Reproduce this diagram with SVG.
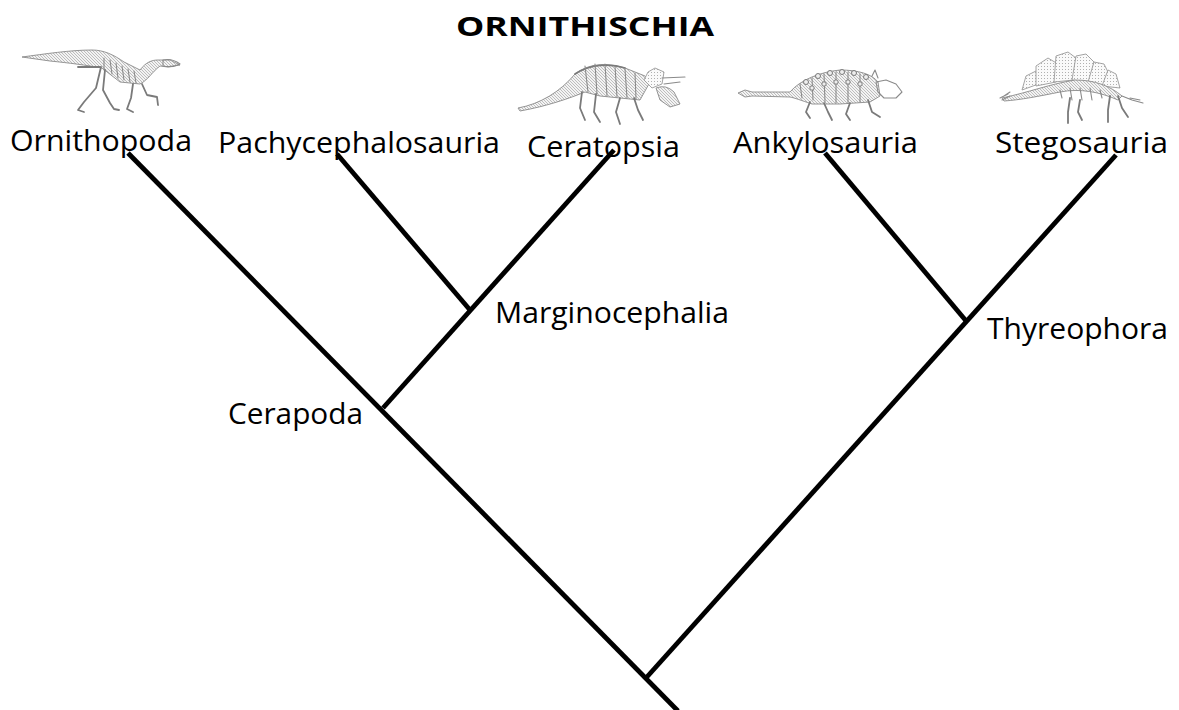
<svg xmlns="http://www.w3.org/2000/svg" width="1179" height="710" viewBox="0 0 1179 710">
  <style>
    .lbl { font-family: "Comic Sans MS", "Open Sans", "DejaVu Sans", sans-serif; font-size: 30px; fill: #000; }
    .ttl { font-family: "Comic Sans MS", "Open Sans", "DejaVu Sans", sans-serif; font-size: 27px; font-weight: bold; fill: #000; }
    .edge { stroke: #000; stroke-width: 4.8; fill: none; stroke-linecap: butt; }
    .bone { stroke: #8a8a8a; stroke-width: 1.1; fill: none; stroke-linecap: round; stroke-linejoin: round; }
    .boneb { stroke: #7a7a7a; stroke-width: 1.8; fill: none; stroke-linecap: round; stroke-linejoin: round; }
    .hatch { fill: url(#hatch); stroke: #8a8a8a; stroke-width: 0.9; }
    .plate { fill: url(#dots); stroke: #9a9a9a; stroke-width: 0.9; }
  </style>
  <defs>
    <pattern id="hatch" width="3" height="3" patternUnits="userSpaceOnUse">
      <rect width="3" height="3" fill="#f3f3f3"/>
      <path d="M0 0 L3 3" stroke="#a6a6a6" stroke-width="0.7"/>
    </pattern>
    <pattern id="dots" width="3" height="3" patternUnits="userSpaceOnUse">
      <rect width="3" height="3" fill="#fafafa"/>
      <rect width="1" height="1" fill="#b0b0b0"/>
    </pattern>
  </defs>
  <rect width="1179" height="710" fill="#fff"/>

  <text class="ttl" x="456" y="36" textLength="258" lengthAdjust="spacingAndGlyphs">ORNITHISCHIA</text>

  <!-- tree branches -->
  <g id="connectors">
    <line class="edge" x1="128" y1="153" x2="678" y2="711"/>
    <line class="edge" x1="383" y1="408" x2="614" y2="150"/>
    <line class="edge" x1="337" y1="154" x2="470" y2="310"/>
    <line class="edge" x1="646" y1="678" x2="1116" y2="155"/>
    <line class="edge" x1="825" y1="153" x2="967" y2="322"/>
  </g>

  <!-- ornithopod skeleton -->
  <g id="ornithopoda">
    <path class="hatch" d="M22 57 C45 54 70 50 92 50 C104 50 114 55 124 62 L140 70 C146 62 152 60 158 60 L170 60 L180 65 L168 67 L160 66 C152 72 148 80 140 84 L120 82 L102 68 C85 65 70 63 50 61 Z"/>
    <path class="bone" d="M104 58 L104 70 M110 60 L112 74 M116 63 L118 78 M122 66 L124 80 M128 69 L130 82 M134 71 L136 83"/>
    <path class="boneb" d="M78 67 L100 67"/>
    <path class="boneb" d="M101 67 L96 88 L84 102 L78 110 L84 112"/>
    <path class="boneb" d="M105 70 L103 90 L110 103 L114 109 L119 110"/>
    <path class="boneb" d="M133 84 L131 98 L127 109 L133 112"/>
    <path class="boneb" d="M142 84 L147 95 L157 97 L158 105"/>
    <path class="bone" d="M163 60 Q172 58 180 64 Q172 68 163 66 Z"/>
  </g>

  <!-- ceratopsian skeleton -->
  <g id="ceratopsia">
    <path class="hatch" d="M518 108 C540 104 560 92 575 74 C588 64 605 62 625 68 L645 76 L650 82 L640 100 L620 98 L600 96 L585 92 C570 98 548 106 520 111 Z"/>
    <path class="boneb" d="M575 74 C590 64 610 63 625 68" stroke="#555"/>
    <path class="bone" d="M585 66 L588 92 M595 64 L597 94 M605 64 L607 96 M615 66 L617 97 M625 69 L627 98 M635 73 L636 99"/>
    <path class="boneb" d="M582 92 L580 108 L585 120"/>
    <path class="boneb" d="M596 94 L594 112 L600 122"/>
    <path class="boneb" d="M620 98 L616 112 L620 124"/>
    <path class="boneb" d="M634 98 L638 110 L643 120"/>
    <path class="plate" d="M644 80 L648 72 L655 68 L664 72 L662 84 L652 88 Z"/>
    <path class="bone" d="M662 78 L685 77 M664 84 L680 82"/>
    <path class="hatch" d="M656 88 Q666 84 674 92 L680 104 L670 107 L660 100 Z"/>
  </g>

  <!-- ankylosaur skeleton -->
  <g id="ankylosauria">
    <path class="hatch" d="M738 93 L745 90 L752 92 L790 92 C800 80 820 72 840 70 C858 70 872 74 878 82 L880 96 L870 102 L840 104 L812 104 C800 100 795 98 790 97 L752 96 L745 97 Z"/>
    <path class="bone" d="M800 84 L802 98 M812 78 L813 100 M824 74 L825 102 M836 72 L836 103 M848 72 L848 103 M860 74 L860 102"/>
    <g fill="#eee" stroke="#7a7a7a" stroke-width="1">
      <circle cx="806" cy="82" r="2.5"/><circle cx="818" cy="76" r="2.5"/><circle cx="830" cy="73" r="2.5"/>
      <circle cx="842" cy="72" r="2.5"/><circle cx="854" cy="73" r="2.5"/><circle cx="866" cy="77" r="2.5"/>
      <circle cx="812" cy="88" r="2.2"/><circle cx="824" cy="84" r="2.2"/><circle cx="836" cy="82" r="2.2"/>
      <circle cx="848" cy="82" r="2.2"/><circle cx="860" cy="84" r="2.2"/>
    </g>
    <path class="boneb" d="M810 102 L806 112 L810 118"/>
    <path class="boneb" d="M824 103 L828 112 L832 120"/>
    <path class="boneb" d="M850 103 L846 114 L850 120"/>
    <path class="boneb" d="M868 100 L872 112 L880 117"/>
    <path class="bone" d="M876 82 L886 80 L896 84 L902 92 L896 98 L884 98 L878 92 Z M872 76 L875 70 L878 78"/>
  </g>

  <!-- stegosaur skeleton -->
  <g id="stegosauria">
    <path class="plate" d="M1022 90 L1026 76 L1038 70 L1044 82 Z"/>
    <path class="plate" d="M1036 86 L1036 66 L1048 58 L1058 64 L1056 82 Z"/>
    <path class="plate" d="M1054 82 L1056 56 L1068 52 L1076 58 L1074 80 Z"/>
    <path class="plate" d="M1072 80 L1076 56 L1086 54 L1094 62 L1090 82 Z"/>
    <path class="plate" d="M1088 82 L1094 62 L1104 64 L1108 72 L1104 86 Z"/>
    <path class="plate" d="M1102 86 L1108 70 L1116 74 L1120 88 Z"/>
    <path class="hatch" d="M1002 98 C1030 92 1050 84 1075 80 C1095 80 1110 86 1122 96 L1118 100 C1100 92 1080 88 1060 92 C1040 96 1020 100 1004 101 Z"/>
    <path class="bone" d="M1000 98 L1008 94 M1002 100 L1010 96 M1004 96 L1010 92 M1122 96 L1132 100 L1143 103 M1130 98 L1140 100"/>
    <path class="bone" d="M1060 90 L1062 98 M1070 88 L1072 100 M1080 88 L1082 100 M1090 88 L1092 100 M1100 90 L1102 98"/>
    <path class="boneb" d="M1070 98 L1068 112 L1068 123"/>
    <path class="boneb" d="M1080 100 L1078 112 L1082 120"/>
    <path class="boneb" d="M1110 96 L1108 110 L1108 122"/>
    <path class="boneb" d="M1118 96 L1122 108 L1128 117"/>
  </g>

  <!-- taxon labels -->
  <g id="n-ornithopoda"><text class="lbl" x="10" y="151" textLength="182" lengthAdjust="spacingAndGlyphs">Ornithopoda</text></g>
  <g id="n-pachycephalosauria"><text class="lbl" x="218" y="153" textLength="282" lengthAdjust="spacingAndGlyphs">Pachycephalosauria</text></g>
  <g id="n-ceratopsia"><text class="lbl" x="527" y="157" textLength="153" lengthAdjust="spacingAndGlyphs">Ceratopsia</text></g>
  <g id="n-ankylosauria"><text class="lbl" x="733" y="153" textLength="185" lengthAdjust="spacingAndGlyphs">Ankylosauria</text></g>
  <g id="n-stegosauria"><text class="lbl" x="995" y="153" textLength="173" lengthAdjust="spacingAndGlyphs">Stegosauria</text></g>
  <g id="n-marginocephalia"><text class="lbl" x="495" y="323" textLength="234" lengthAdjust="spacingAndGlyphs">Marginocephalia</text></g>
  <g id="n-thyreophora"><text class="lbl" x="987" y="339" textLength="181" lengthAdjust="spacingAndGlyphs">Thyreophora</text></g>
  <g id="n-cerapoda"><text class="lbl" x="228" y="424" textLength="135" lengthAdjust="spacingAndGlyphs">Cerapoda</text></g>
</svg>
